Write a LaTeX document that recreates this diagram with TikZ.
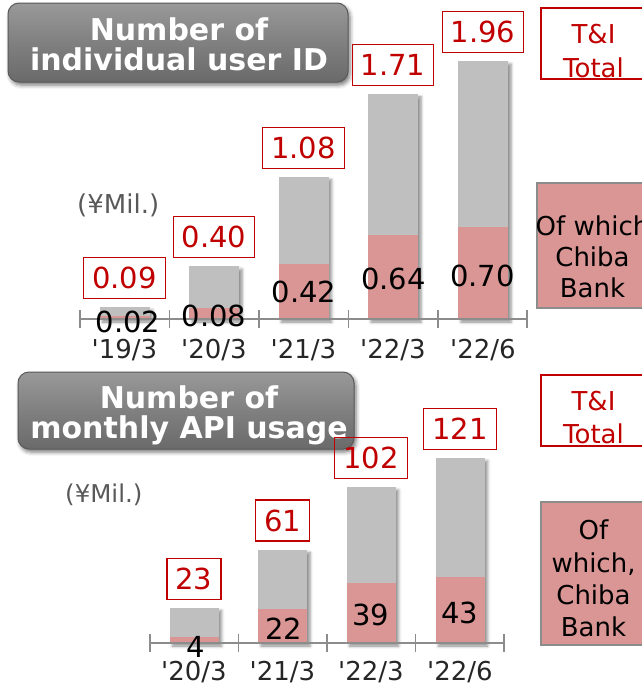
\documentclass[tikz,border=0pt]{standalone}
\usepackage{fontspec}
\setmainfont{DejaVu Sans}
\usetikzlibrary{shadows.blur}

\definecolor{barGrey}{HTML}{BFBFBF}
\definecolor{barPink}{HTML}{D99694}
\definecolor{totalRed}{HTML}{C00000}
\definecolor{axisGrey}{HTML}{8C8C8C}
\definecolor{unitGrey}{HTML}{595959}
\definecolor{catInk}{HTML}{262626}
\definecolor{titleTop}{HTML}{999999}
\definecolor{titleMid}{HTML}{808080}
\definecolor{titleBot}{HTML}{6A6A6A}
\definecolor{titleEdge}{HTML}{5A5A5A}
\definecolor{legendEdge}{HTML}{8C8C8C}

\newcommand{\yr}[1]{\textquotesingle#1}

\tikzset{
  titlebox/.style={draw=titleEdge, line width=1pt, rounded corners=11pt,
    top color=titleTop, bottom color=titleBot, middle color=titleMid,
    blur shadow={shadow xshift=2pt, shadow yshift=-3pt, shadow blur radius=4pt, shadow opacity=55}},
  titletext/.style={text=white, font=\bfseries\fontsize{30}{30}\selectfont, align=center, inner sep=0pt},
  totalbox/.style={draw=totalRed, line width=1.3pt, text=totalRed, font=\fontsize{29}{29}\selectfont,
    inner xsep=8.5pt, inner ysep=0pt, minimum height=41pt, anchor=south},
  chibaval/.style={text=black, font=\fontsize{29}{29}\selectfont, inner sep=0pt},
  catlabel/.style={text=catInk, font=\fontsize{26}{26}\selectfont, inner sep=0pt, anchor=base},
  unitlabel/.style={text=unitGrey, inner sep=0pt, anchor=base west},
  barshadow/.style={blur shadow={shadow xshift=3pt, shadow yshift=-3pt, shadow blur radius=3pt, shadow opacity=45}},
  axisline/.style={draw=axisGrey, line width=1.5pt},
  legtotalbox/.style={draw=totalRed, line width=1.3pt, minimum width=105pt},
  legchibabox/.style={draw=legendEdge, fill=barPink, line width=1.3pt},
  legtext/.style={align=center, inner sep=0pt},
}

\begin{document}
\begin{tikzpicture}[x=1pt, y=-1pt]
\useasboundingbox (0,0) rectangle (642,686);

% ---------- upper chart: individual user IDs ----------
\node[titlebox, minimum width=340pt, minimum height=79pt] (titleIdBox) at (178,42.5) {};
\node[titletext] (titleId) at (179,44.5) {Number of\\individual user ID};

\node[unitlabel, font=\fontsize{26}{26}\selectfont] (unitId) at (77,213) {(¥Mil.)};

\foreach \cx/\tot/\chb in {124.5/0.09/0.02, 214/0.40/0.08, 303.5/1.08/0.42, 393/1.71/0.64, 483/1.96/0.70} {
  \fill[barGrey, barshadow] (\cx-25,319) rectangle (\cx+25,{319-131.6*\tot});
  \fill[barPink] (\cx-25,319) rectangle (\cx+25,{319-131.6*\chb});
}

\draw[axisline] (80,319) -- (527,319);
\foreach \tx in {80,169.5,259,348.5,438,527}
  \draw[axisline] (\tx,310) -- (\tx,328);

\foreach \cx/\tot/\lab [count=\i] in {124.5/0.09/0.09, 214/0.40/0.40, 303.5/1.08/1.08, 393/1.71/1.71, 483/1.96/1.96}
  \node[totalbox] (idTotal\i) at (\cx,{319-131.6*\tot-8}) {\lab};

\foreach \vx/\vy/\lab [count=\i] in {128/322/0.02, 214/316/0.08, 304/292/0.42, 393.5/278.5/0.64, 482.5/276/0.70}
  \node[chibaval] (idChiba\i) at (\vx,\vy) {\lab};

\foreach \cx/\lab [count=\i] in {124.5/{19/3}, 214/{20/3}, 303.5/{21/3}, 393/{22/3}, 483/{22/6}}
  \node[catlabel] (idCat\i) at (\cx,358) {\yr{\lab}};

\node[legtotalbox, minimum height=71pt] (legIdTotalBox) at (593.5,43.5) {};
\node[legtext, text=totalRed, font=\fontsize{26}{33.5}\selectfont] (legIdTotal) at (593.5,51) {T\&I\\Total};
\node[legchibabox, minimum width=111pt, minimum height=125pt] (legIdChibaBox) at (592.5,245.5) {};
\node[legtext, font=\fontsize{26}{31}\selectfont] (legIdChiba) at (592.5,257) {Of which\\Chiba\\Bank};

% ---------- lower chart: monthly API usage ----------
\node[titlebox, minimum width=336pt, minimum height=77pt] (titleApiBox) at (186,410.5) {};
\node[titletext] (titleApi) at (189,415) {Number of\\monthly API usage};

\node[unitlabel, font=\fontsize{24.5}{24.5}\selectfont] (unitApi) at (65,502) {(¥Mil.)};

\foreach \cx/\tot/\chb in {194/23/4, 282.5/61/22, 371/102/39, 460/121/43} {
  \fill[barGrey, barshadow] (\cx-24.5,643) rectangle (\cx+24.5,{643-1.529*\tot});
  \fill[barPink] (\cx-24.5,643) rectangle (\cx+24.5,{643-1.529*\chb});
}

\draw[axisline] (150,643) -- (504,643);
\foreach \tx in {150,238.5,327,415.5,504}
  \draw[axisline] (\tx,634) -- (\tx,652);

\foreach \cx/\tot [count=\i] in {194/23, 282.5/61, 371/102, 460/121}
  \node[totalbox] (apiTotal\i) at (\cx,{643-1.529*\tot-8}) {\tot};

\foreach \vx/\vy/\lab [count=\i] in {196/646.5/4, 283.5/628.5/22, 370.5/615/39, 459.5/613/43}
  \node[chibaval] (apiChiba\i) at (\vx,\vy) {\lab};

\foreach \cx/\lab [count=\i] in {194/{20/3}, 282.5/{21/3}, 371/{22/3}, 460/{22/6}}
  \node[catlabel] (apiCat\i) at (\cx,680) {\yr{\lab}};

\node[legtotalbox, minimum height=71pt] (legApiTotalBox) at (593.5,410.5) {};
\node[legtext, text=totalRed, font=\fontsize{26}{33}\selectfont] (legApiTotal) at (593.5,418) {T\&I\\Total};
\node[legchibabox, minimum width=105pt, minimum height=143pt] (legApiChibaBox) at (593.5,573.5) {};
\node[legtext, font=\fontsize{26}{32.3}\selectfont] (legApiChiba) at (593.5,578.5) {Of\\which,\\Chiba\\Bank};
\end{tikzpicture}
\end{document}
